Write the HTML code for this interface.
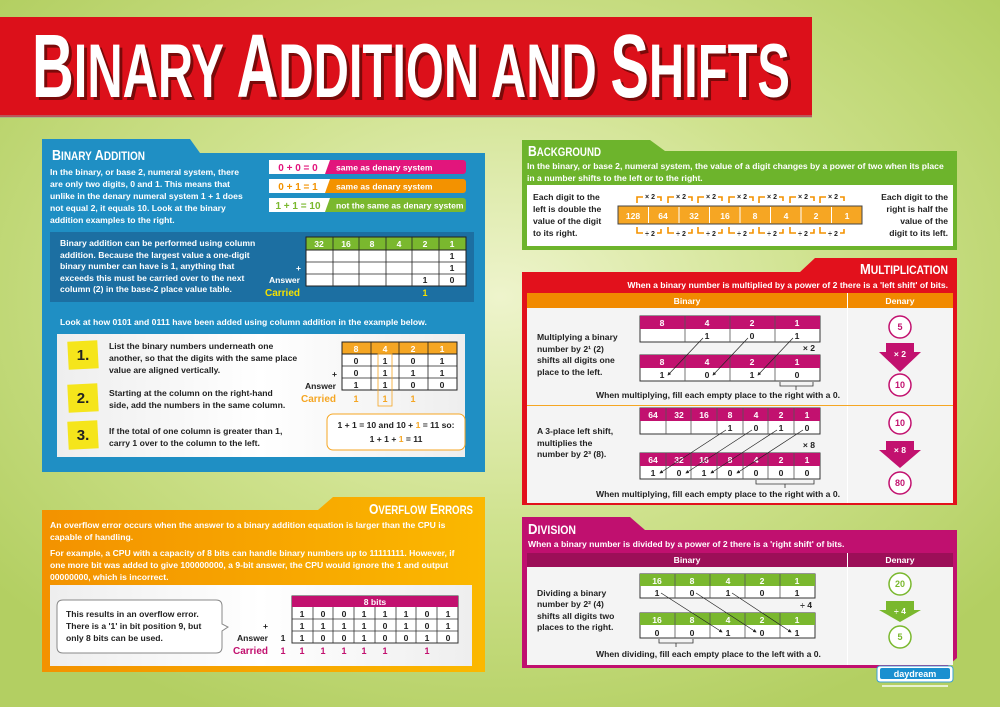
<!DOCTYPE html>
<html><head><meta charset="utf-8"><style>
html,body{margin:0;padding:0;width:1000px;height:707px;overflow:hidden;background:#c3d97a}
svg{display:block}
text{font-family:"Liberation Sans",sans-serif;font-weight:bold}
.w{fill:#fff;font-size:8.6px}
.k{fill:#222;font-size:8.6px}
.hd{font-family:"Liberation Sans Narrow","Liberation Sans",sans-serif;font-weight:bold;fill:#fff}
.c{text-anchor:middle}
.r{text-anchor:end}
</style></head><body>
<svg width="1000" height="707" viewBox="0 0 1000 707" xmlns="http://www.w3.org/2000/svg">
<defs>
<radialGradient id="bg" cx="0.5" cy="0.42" r="0.65">
<stop offset="0" stop-color="#eef4cc"/><stop offset="0.5" stop-color="#cfe28e"/><stop offset="1" stop-color="#b3cf62"/>
</radialGradient>
<linearGradient id="ov" x1="0" x2="1"><stop offset="0" stop-color="#f39200"/><stop offset="1" stop-color="#fbb800"/></linearGradient>
<linearGradient id="wb" x1="0" x2="1"><stop offset="0" stop-color="#eeeeee"/><stop offset="0.5" stop-color="#ffffff"/><stop offset="1" stop-color="#eeeeee"/></linearGradient>
<marker id="ah" markerWidth="5" markerHeight="5" refX="4" refY="2.5" orient="auto"><path d="M0,0L5,2.5L0,5z" fill="#222"/></marker>
</defs>
<rect width="1000" height="707" fill="url(#bg)"/>

<!-- Title -->
<rect x="0" y="17" width="812" height="100" fill="#dc101a"/>
<rect x="0" y="115" width="812" height="3" fill="#999" opacity="0.5"/>
<g font-family="Liberation Sans Narrow, Liberation Sans, sans-serif" font-weight="bold">
<text x="35" y="100" fill="#7a0a0a" textLength="758" lengthAdjust="spacingAndGlyphs" font-size="76"><tspan font-size="90">B</tspan>INARY <tspan font-size="90">A</tspan>DDITION AND <tspan font-size="90">S</tspan>HIFTS</text>
<text x="32" y="97" fill="#fff" textLength="758" lengthAdjust="spacingAndGlyphs" font-size="76"><tspan font-size="90">B</tspan>INARY <tspan font-size="90">A</tspan>DDITION AND <tspan font-size="90">S</tspan>HIFTS</text>
</g>

<!-- Binary Addition panel -->
<path d="M42,139 H190 L200,153 H485 V472 H42 Z" fill="#1f8fc4"/>
<text class="hd" x="52" y="160" font-size="15" textLength="93" lengthAdjust="spacingAndGlyphs">B<tspan font-size="12">INARY</tspan> A<tspan font-size="12">DDITION</tspan></text>
<text class="w" x="50" y="175">In the binary, or base 2, numeral system, there</text>
<text class="w" x="50" y="187">are only two digits, 0 and 1. This means that</text>
<text class="w" x="50" y="199">unlike in the denary numeral system 1 + 1 does</text>
<text class="w" x="50" y="211">not equal 2, it equals 10. Look at the binary</text>
<text class="w" x="50" y="223">addition examples to the right.</text>
<g font-size="9">
<rect x="269" y="160" width="197" height="14" rx="3" fill="#e2157c"/><path d="M269,160 H330 L325,174 H269Z" fill="#fff"/>
<text x="298" y="171" class="c" fill="#e2157c" font-size="10">0 + 0 = 0</text><text x="336" y="170.5" class="w" font-size="8.5">same as denary system</text>
<rect x="269" y="179" width="197" height="14" rx="3" fill="#f39200"/><path d="M269,179 H330 L325,193 H269Z" fill="#fff"/>
<text x="298" y="190" class="c" fill="#f39200" font-size="10">0 + 1 = 1</text><text x="336" y="189.5" class="w" font-size="8.5">same as denary system</text>
<rect x="269" y="198" width="197" height="14" rx="3" fill="#7ab82e"/><path d="M269,198 H330 L325,212 H269Z" fill="#fff"/>
<text x="298" y="209" class="c" fill="#7ab82e" font-size="10">1 + 1 = 10</text><text x="336" y="208.5" class="w" font-size="8.5">not the same as denary system</text>
</g>
<rect x="50" y="232" width="424" height="70" fill="#1c6fa2"/>
<text class="w" x="60" y="246">Binary addition can be performed using column</text>
<text class="w" x="60" y="258">addition. Because the largest value a one-digit</text>
<text class="w" x="60" y="269">binary number can have is 1, anything that</text>
<text class="w" x="60" y="281">exceeds this must be carried over to the next</text>
<text class="w" x="60" y="292">column (2) in the base-2 place value table.</text>
<rect x="306" y="237" width="160" height="49" fill="#fff" stroke="#222"/>
<rect x="306" y="237" width="160" height="13" fill="#7ab82e" stroke="#222"/>
<g stroke="#222" stroke-width="0.8"><path d="M333,237V286M359,237V286M386,237V286M412,237V286M439,237V286M306,262H466M306,274H466"/></g>
<g font-size="9"><text x="319" y="247" class="c w">32</text><text x="346" y="247" class="c w">16</text><text x="372" y="247" class="c w">8</text><text x="399" y="247" class="c w">4</text><text x="425" y="247" class="c w">2</text><text x="452" y="247" class="c w">1</text></g>
<text class="k c" x="452" y="259">1</text><text class="k c" x="452" y="271">1</text><text class="k c" x="425" y="283">1</text><text class="k c" x="452" y="283">0</text>
<text class="w r" x="301" y="271">+</text><text class="w r" x="300" y="283" font-size="10">Answer</text>
<text x="300" y="296" class="r" fill="#f5e100" font-size="10">Carried</text><text x="425" y="296" class="c" fill="#f5e100" font-size="9">1</text>

<text class="w" x="60" y="325">Look at how 0101 and 0111 have been added using column addition in the example below.</text>
<rect x="57" y="334" width="408" height="123" fill="url(#wb)"/>
<g>
<rect x="68" y="341" width="30" height="28" fill="#f5e51b" transform="rotate(-3 83 355)"/><text x="83" y="360" class="c" fill="#222" font-size="15">1.</text>
<rect x="68" y="384" width="30" height="28" fill="#f5e51b" transform="rotate(-3 83 398)"/><text x="83" y="403" class="c" fill="#222" font-size="15">2.</text>
<rect x="68" y="421" width="30" height="28" fill="#f5e51b" transform="rotate(-3 83 435)"/><text x="83" y="440" class="c" fill="#222" font-size="15">3.</text>
</g>
<text class="k" x="109" y="349">List the binary numbers underneath one</text>
<text class="k" x="109" y="361">another, so that the digits with the same place</text>
<text class="k" x="109" y="373">value are aligned vertically.</text>
<text class="k" x="109" y="396">Starting at the column on the right-hand</text>
<text class="k" x="109" y="408">side, add the numbers in the same column.</text>
<text class="k" x="109" y="434">If the total of one column is greater than 1,</text>
<text class="k" x="109" y="446">carry 1 over to the column to the left.</text>
<rect x="342" y="342" width="115" height="48" fill="#fff" stroke="#222"/>
<rect x="342" y="342" width="115" height="12" fill="#f5a623" stroke="#222"/>
<g stroke="#222" stroke-width="0.8"><path d="M371,342V390M399,342V390M428,342V390M342,366H457M342,378H457"/></g>
<g font-size="9"><text x="356" y="352" class="c w">8</text><text x="385" y="352" class="c w">4</text><text x="413" y="352" class="c w">2</text><text x="442" y="352" class="c w">1</text></g>
<text class="k c" x="356" y="364">0</text><text class="k c" x="385" y="364">1</text><text class="k c" x="413" y="364">0</text><text class="k c" x="442" y="364">1</text>
<text class="k c" x="356" y="376">0</text><text class="k c" x="385" y="376">1</text><text class="k c" x="413" y="376">1</text><text class="k c" x="442" y="376">1</text>
<text class="k c" x="356" y="388">1</text><text class="k c" x="385" y="388">1</text><text class="k c" x="413" y="388">0</text><text class="k c" x="442" y="388">0</text>
<text class="k r" x="337" y="377">+</text><text class="k r" x="336" y="389" font-size="10">Answer</text>
<text class="r" x="336" y="402" fill="#f5a623" font-size="10">Carried</text>
<text class="c" x="356" y="402" fill="#f5a623" font-size="9">1</text><text class="c" x="385" y="402" fill="#f5a623" font-size="9">1</text><text class="c" x="413" y="402" fill="#f5a623" font-size="9">1</text>
<rect x="378" y="354" width="14" height="52" fill="none" stroke="#f5a623" stroke-width="0.8"/>
<rect x="327" y="414" width="138" height="36" rx="6" fill="#fff" stroke="#f5a623"/>
<text class="k c" x="396" y="428">1 + 1 = 10 and 10 + <tspan fill="#f5a623">1</tspan> = 11 so:</text>
<text class="k c" x="396" y="442" font-size="10">1 + 1 + <tspan fill="#f5a623">1</tspan> = 11</text>

<!-- Background panel -->
<path d="M522,140 H650 L665,151 H957 V250 H522 Z" fill="#6db42c"/>
<text class="hd" x="528" y="156" font-size="15" textLength="73" lengthAdjust="spacingAndGlyphs">B<tspan font-size="12">ACKGROUND</tspan></text>
<text class="w" x="527" y="169">In the binary, or base 2, numeral system, the value of a digit changes by a power of two when its place</text>
<text class="w" x="527" y="181">in a number shifts to the left or to the right.</text>
<rect x="527" y="185" width="426" height="61" fill="#fff"/>
<text class="k" x="533" y="200">Each digit to the</text><text class="k" x="533" y="212">left is double the</text><text class="k" x="533" y="224">value of the digit</text><text class="k" x="533" y="236">to its right.</text>
<text class="k r" x="948" y="200">Each digit to the</text><text class="k r" x="948" y="212">right is half the</text><text class="k r" x="948" y="224">value of the</text><text class="k r" x="948" y="236">digit to its left.</text>
<rect x="618" y="206" width="244" height="18" fill="#f6a623" stroke="#444"/>
<g stroke="#fff" stroke-width="1"><path d="M648.5,207V223M679,207V223M709.5,207V223M740,207V223M770.5,207V223M801,207V223M831.5,207V223"/></g>
<g font-size="9.5"><text x="633" y="219" class="w c">128</text><text x="663" y="219" class="w c">64</text><text x="694" y="219" class="w c">32</text><text x="725" y="219" class="w c">16</text><text x="755" y="219" class="w c">8</text><text x="786" y="219" class="w c">4</text><text x="816" y="219" class="w c">2</text><text x="847" y="219" class="w c">1</text></g>
<g fill="none" stroke="#f39200" stroke-width="1.6">
<path d="M637,203V197H643M657,197H661V201M668,203V197H674M688,197H692V201M698,203V197H704M718,197H722V201M729,203V197H735M749,197H753V201M759,203V197H765M779,197H783V201M790,203V197H796M810,197H814V201M820,203V197H826M840,197H844V201"/>
<path d="M637,227V233H643M657,233H661V229M668,227V233H674M688,233H692V229M698,227V233H704M718,233H722V229M729,227V233H735M749,233H753V229M759,227V233H765M779,233H783V229M790,227V233H796M810,233H814V229M820,227V233H826M840,233H844V229"/>
</g>
<g fill="#222" font-size="7"><text x="650" y="199" class="c">× 2</text><text x="681" y="199" class="c">× 2</text><text x="711" y="199" class="c">× 2</text><text x="742" y="199" class="c">× 2</text><text x="772" y="199" class="c">× 2</text><text x="803" y="199" class="c">× 2</text><text x="833" y="199" class="c">× 2</text>
<text x="650" y="236" class="c">÷ 2</text><text x="681" y="236" class="c">÷ 2</text><text x="711" y="236" class="c">÷ 2</text><text x="742" y="236" class="c">÷ 2</text><text x="772" y="236" class="c">÷ 2</text><text x="803" y="236" class="c">÷ 2</text><text x="833" y="236" class="c">÷ 2</text></g>

<!-- Multiplication -->
<path d="M522,272 H800 L815,258 H957 V505 H522 Z" fill="#e2111c"/>
<text class="hd" x="860" y="274" font-size="15" textLength="88" lengthAdjust="spacingAndGlyphs">M<tspan font-size="12">ULTIPLICATION</tspan></text>
<text class="w r" x="948" y="288">When a binary number is multiplied by a power of 2 there is a 'left shift' of bits.</text>
<rect x="527" y="293" width="426" height="15" fill="#f18a00"/>
<text class="w c" x="687" y="304">Binary</text><text class="w c" x="900" y="304">Denary</text>
<rect x="527" y="308" width="426" height="195" fill="#f4f4f4"/>
<rect x="847" y="293" width="1" height="210" fill="#fff"/>
<rect x="527" y="405" width="426" height="1" fill="#f5a623"/>
<rect x="640" y="316" width="180" height="26" fill="#fff" stroke="#333"/><rect x="640" y="316" width="180" height="13" fill="#c2116f"/>
<rect x="640" y="355" width="180" height="26" fill="#fff" stroke="#333"/><rect x="640" y="355" width="180" height="13" fill="#c2116f"/>
<g stroke="#555" stroke-width="0.8"><path d="M685,316V342M730,316V342M775,316V342M685,355V381M730,355V381M775,355V381"/></g>
<g font-size="9"><text class="w c" x="662" y="326">8</text><text class="w c" x="707" y="326">4</text><text class="w c" x="752" y="326">2</text><text class="w c" x="797" y="326">1</text>
<text class="w c" x="662" y="365">8</text><text class="w c" x="707" y="365">4</text><text class="w c" x="752" y="365">2</text><text class="w c" x="797" y="365">1</text></g>
<text class="k c" x="707" y="339">1</text><text class="k c" x="752" y="339">0</text><text class="k c" x="797" y="339">1</text>
<text class="k c" x="662" y="378">1</text><text class="k c" x="707" y="378">0</text><text class="k c" x="752" y="378">1</text><text class="k c" x="797" y="378">0</text>
<g stroke="#222" stroke-width="0.7" marker-end="url(#ah)"><path d="M703,338L668,375"/><path d="M748,338L713,375"/><path d="M793,338L758,375"/></g>
<text class="k r" x="815" y="351">× 2</text>
<path d="M780,382V386H813V382M796,386V390" fill="none" stroke="#333" stroke-width="0.8"/>
<text class="k" x="596" y="398">When multiplying, fill each empty place to the right with a 0.</text>
<text class="k" x="537" y="340">Multiplying a binary</text><text class="k" x="537" y="352">number by 2¹ (2)</text><text class="k" x="537" y="363">shifts all digits one</text><text class="k" x="537" y="375">place to the left.</text>
<rect x="640" y="408" width="180" height="26" fill="#fff" stroke="#333"/><rect x="640" y="408" width="180" height="13" fill="#c2116f"/>
<rect x="640" y="453" width="180" height="26" fill="#fff" stroke="#333"/><rect x="640" y="453" width="180" height="13" fill="#c2116f"/>
<g stroke="#555" stroke-width="0.8"><path d="M666,408V434M691,408V434M717,408V434M743,408V434M768,408V434M794,408V434M666,453V479M691,453V479M717,453V479M743,453V479M768,453V479M794,453V479"/></g>
<g font-size="9"><text class="w c" x="653" y="418">64</text><text class="w c" x="679" y="418">32</text><text class="w c" x="704" y="418">16</text><text class="w c" x="730" y="418">8</text><text class="w c" x="756" y="418">4</text><text class="w c" x="781" y="418">2</text><text class="w c" x="807" y="418">1</text>
<text class="w c" x="653" y="463">64</text><text class="w c" x="679" y="463">32</text><text class="w c" x="704" y="463">16</text><text class="w c" x="730" y="463">8</text><text class="w c" x="756" y="463">4</text><text class="w c" x="781" y="463">2</text><text class="w c" x="807" y="463">1</text></g>
<text class="k c" x="730" y="431">1</text><text class="k c" x="756" y="431">0</text><text class="k c" x="781" y="431">1</text><text class="k c" x="807" y="431">0</text>
<text class="k c" x="653" y="476">1</text><text class="k c" x="679" y="476">0</text><text class="k c" x="704" y="476">1</text><text class="k c" x="730" y="476">0</text><text class="k c" x="756" y="476">0</text><text class="k c" x="781" y="476">0</text><text class="k c" x="807" y="476">0</text>
<g stroke="#222" stroke-width="0.7" marker-end="url(#ah)"><path d="M726,430L660,473"/><path d="M752,430L686,473"/><path d="M777,430L711,473"/><path d="M803,430L737,473"/></g>
<text class="k r" x="815" y="448">× 8</text>
<path d="M756,480V484H814V480M785,484V488" fill="none" stroke="#333" stroke-width="0.8"/>
<text class="k" x="596" y="497">When multiplying, fill each empty place to the right with a 0.</text>
<text class="k" x="537" y="434">A 3-place left shift,</text><text class="k" x="537" y="446">multiplies the</text><text class="k" x="537" y="457">number by 2³ (8).</text>
<g fill="#fff" stroke="#c2116f" stroke-width="1.5"><circle cx="900" cy="327" r="11"/><circle cx="900" cy="385" r="11"/><circle cx="900" cy="423" r="11"/><circle cx="900" cy="483" r="11"/></g>
<g fill="#c2116f" font-size="9"><text class="c" x="900" y="330">5</text><text class="c" x="900" y="388">10</text><text class="c" x="900" y="426">10</text><text class="c" x="900" y="486">80</text></g>
<path d="M886,343H914V352H921L900,372L879,352H886Z" fill="#c2116f"/><text class="w c" x="900" y="357">× 2</text>
<path d="M886,441H914V450H921L900,468L879,450H886Z" fill="#c2116f"/><text class="w c" x="900" y="453">× 8</text>

<!-- Division -->
<path d="M522,517 H630 L645,530 H957 V658 L945,668 H522 Z" fill="#c0106f"/>
<text class="hd" x="528" y="534" font-size="15" textLength="48" lengthAdjust="spacingAndGlyphs">D<tspan font-size="12">IVISION</tspan></text>
<text class="w" x="528" y="547">When a binary number is divided by a power of 2 there is a 'right shift' of bits.</text>
<rect x="527" y="553" width="426" height="14" fill="#9c0f58"/>
<text class="w c" x="687" y="563">Binary</text><text class="w c" x="900" y="563">Denary</text>
<rect x="527" y="567" width="426" height="98" fill="#f4f4f4"/>
<rect x="847" y="553" width="1" height="112" fill="#fff"/>
<rect x="640" y="574" width="175" height="24" fill="#fff" stroke="#333"/><rect x="640" y="574" width="175" height="12" fill="#7ab82e"/>
<rect x="640" y="613" width="175" height="25" fill="#fff" stroke="#333"/><rect x="640" y="613" width="175" height="12" fill="#7ab82e"/>
<g stroke="#555" stroke-width="0.8"><path d="M675,574V598M710,574V598M745,574V598M780,574V598M675,613V638M710,613V638M745,613V638M780,613V638"/></g>
<g font-size="9"><text class="w c" x="657" y="584">16</text><text class="w c" x="692" y="584">8</text><text class="w c" x="728" y="584">4</text><text class="w c" x="762" y="584">2</text><text class="w c" x="797" y="584">1</text>
<text class="w c" x="657" y="623">16</text><text class="w c" x="692" y="623">8</text><text class="w c" x="728" y="623">4</text><text class="w c" x="762" y="623">2</text><text class="w c" x="797" y="623">1</text></g>
<text class="k c" x="657" y="596">1</text><text class="k c" x="692" y="596">0</text><text class="k c" x="728" y="596">1</text><text class="k c" x="762" y="596">0</text><text class="k c" x="797" y="596">1</text>
<text class="k c" x="657" y="636">0</text><text class="k c" x="692" y="636">0</text><text class="k c" x="728" y="636">1</text><text class="k c" x="762" y="636">0</text><text class="k c" x="797" y="636">1</text>
<g stroke="#222" stroke-width="0.7" marker-end="url(#ah)"><path d="M661,593L722,632"/><path d="M696,593L756,632"/><path d="M732,593L791,632"/></g>
<text class="k r" x="812" y="608">÷ 4</text>
<path d="M659,639V643H693V639M676,643V647" fill="none" stroke="#333" stroke-width="0.8"/>
<text class="k" x="596" y="657">When dividing, fill each empty place to the left with a 0.</text>
<text class="k" x="537" y="596">Dividing a binary</text><text class="k" x="537" y="607">number by 2² (4)</text><text class="k" x="537" y="619">shifts all digits two</text><text class="k" x="537" y="630">places to the right.</text>
<g fill="#fff" stroke="#7ab82e" stroke-width="1.5"><circle cx="900" cy="584" r="11"/><circle cx="900" cy="637" r="11"/></g>
<g fill="#7ab82e" font-size="9"><text class="c" x="900" y="587">20</text><text class="c" x="900" y="640">5</text></g>
<path d="M886,601H914V610H921L900,622L879,610H886Z" fill="#7ab82e"/><text class="w c" x="900" y="614">÷ 4</text>

<!-- logo -->
<rect x="877" y="666" width="76" height="16" rx="3" fill="#fff" stroke="#3aa0d8"/>
<rect x="880" y="668" width="70" height="11" rx="2" fill="#1a8fd0"/>
<text x="915" y="677" class="c" fill="#fff" font-size="9">daydream</text>
<rect x="882" y="685" width="66" height="2" fill="#fff" opacity="0.7"/>

<!-- Overflow -->
<path d="M42,510 H318 L333,497 H485 V672 H42 Z" fill="url(#ov)"/>
<text class="hd" x="369" y="514" font-size="15" textLength="104" lengthAdjust="spacingAndGlyphs">O<tspan font-size="12">VERFLOW</tspan> E<tspan font-size="12">RRORS</tspan></text>
<text class="w" x="50" y="528">An overflow error occurs when the answer to a binary addition equation is larger than the CPU is</text>
<text class="w" x="50" y="540">capable of handling.</text>
<text class="w" x="50" y="556">For example, a CPU with a capacity of 8 bits can handle binary numbers up to 11111111. However, if</text>
<text class="w" x="50" y="568">one more bit was added to give 100000000, a 9-bit answer, the CPU would ignore the 1 and output</text>
<text class="w" x="50" y="580">00000000, which is incorrect.</text>
<rect x="50" y="585" width="422" height="81" fill="url(#wb)"/>
<path d="M63,600 H216 Q222,600 222,606 V624 L228,627 L222,631 V647 Q222,653 216,653 H63 Q57,653 57,647 V606 Q57,600 63,600Z" fill="#fff" stroke="#888"/>
<text class="k" x="66" y="617">This results in an overflow error.</text>
<text class="k" x="66" y="629">There is a '1' in bit position 9, but</text>
<text class="k" x="66" y="641">only 8 bits can be used.</text>
<rect x="292" y="596" width="166" height="47" fill="#fff" stroke="#333"/>
<rect x="292" y="596" width="166" height="11" fill="#c2116f"/>
<text class="w c" x="375" y="605">8 bits</text>
<g stroke="#333" stroke-width="0.8"><path d="M313,607V643M333,607V643M354,607V643M375,607V643M396,607V643M416,607V643M437,607V643M292,619H458M292,631H458"/></g>
<g>
<text class="k c" x="302" y="617">1</text><text class="k c" x="323" y="617">0</text><text class="k c" x="344" y="617">0</text><text class="k c" x="364" y="617">1</text><text class="k c" x="385" y="617">1</text><text class="k c" x="406" y="617">1</text><text class="k c" x="427" y="617">0</text><text class="k c" x="448" y="617">1</text>
<text class="k c" x="302" y="629">1</text><text class="k c" x="323" y="629">1</text><text class="k c" x="344" y="629">1</text><text class="k c" x="364" y="629">1</text><text class="k c" x="385" y="629">0</text><text class="k c" x="406" y="629">1</text><text class="k c" x="427" y="629">0</text><text class="k c" x="448" y="629">1</text>
<text class="k c" x="302" y="641">1</text><text class="k c" x="323" y="641">0</text><text class="k c" x="344" y="641">0</text><text class="k c" x="364" y="641">1</text><text class="k c" x="385" y="641">0</text><text class="k c" x="406" y="641">0</text><text class="k c" x="427" y="641">1</text><text class="k c" x="448" y="641">0</text>
</g>
<text class="k r" x="268" y="629">+</text><text class="k r" x="268" y="641" font-size="10">Answer</text><text class="k c" x="283" y="641">1</text>
<text class="r" x="268" y="654" fill="#c2116f" font-size="10">Carried</text>
<g fill="#c2116f" font-size="9"><text class="c" x="283" y="654">1</text><text class="c" x="302" y="654">1</text><text class="c" x="323" y="654">1</text><text class="c" x="344" y="654">1</text><text class="c" x="364" y="654">1</text><text class="c" x="385" y="654">1</text><text class="c" x="427" y="654">1</text></g>
</svg>
</body></html>
